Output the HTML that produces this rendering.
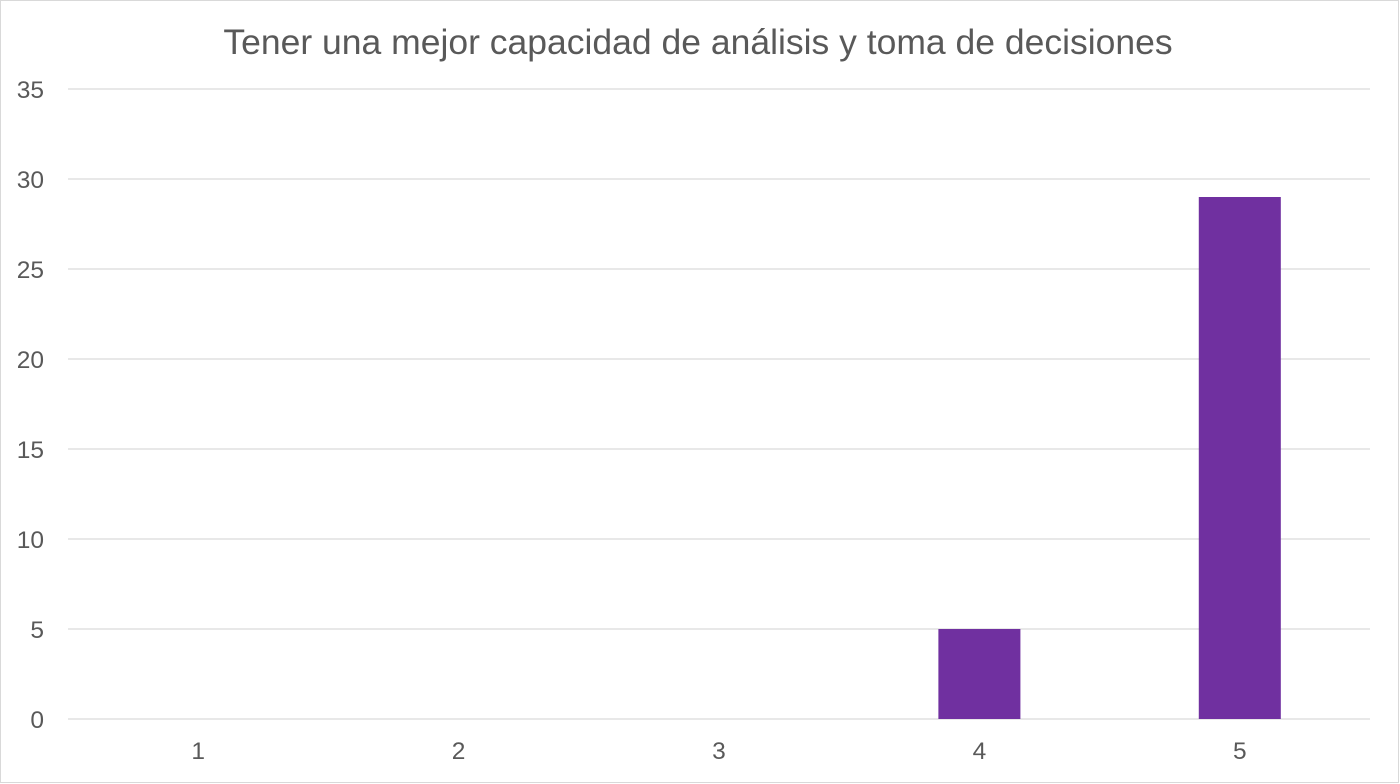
<!DOCTYPE html>
<html><head><meta charset="utf-8"><style>
html,body{margin:0;padding:0;background:#fff;}
svg{display:block;font-family:"Liberation Sans",Arial,sans-serif;}
</style></head><body>
<svg id="chart" width="1400" height="784" viewBox="0 0 1400 784">
<rect x="0.5" y="0.5" width="1398" height="782" fill="#fff" stroke="#d9d9d9"/>
<text x="698" y="54" text-anchor="middle" font-size="35.5" fill="#595959">Tener una mejor capacidad de análisis y toma de decisiones</text>
<g id="grid"></g><g id="bars"></g><g id="xlabels"></g><g id="ylabels"></g>
</svg>
<script>
const categories = ["1","2","3","4","5"];
const values = [0,0,0,5,29];
const yTicks = [0,5,10,15,20,25,30,35];
const x0=68,x1=1370,yBase=719,yTop=89,yMax=35;
const ns="http://www.w3.org/2000/svg";
const band=(x1-x0)/categories.length;
const xC=i=>x0+band*(i+0.5);
const yS=v=>yBase-(v/yMax)*(yBase-yTop);
function mk(t,a,p){const e=document.createElementNS(ns,t);for(const k in a)e.setAttribute(k,a[k]);document.getElementById(p).appendChild(e);return e;}
yTicks.forEach(t=>{
  const l=mk('line',{x1:x0,x2:x1,y1:yS(t),y2:yS(t),stroke:'#d9d9d9','stroke-width':1.3},'grid');
  
  
  const tx=mk('text',{x:44,y:yS(t)+9,'text-anchor':'end','font-size':24.5,fill:'#595959'},'ylabels');
  tx.textContent=t;
  
  
});
categories.forEach((c,i)=>{
  const bw=band*0.315;
  if(values[i]>0){
    const r=mk('rect',{x:xC(i)-bw/2,y:yS(values[i]),width:bw,height:yBase-yS(values[i]),fill:'#7030a0'},'bars');
    
    
  }
  const tx=mk('text',{x:xC(i),y:759,'text-anchor':'middle','font-size':24.5,fill:'#595959'},'xlabels');
  tx.textContent=c;
  
  
});
</script>
</body></html>
